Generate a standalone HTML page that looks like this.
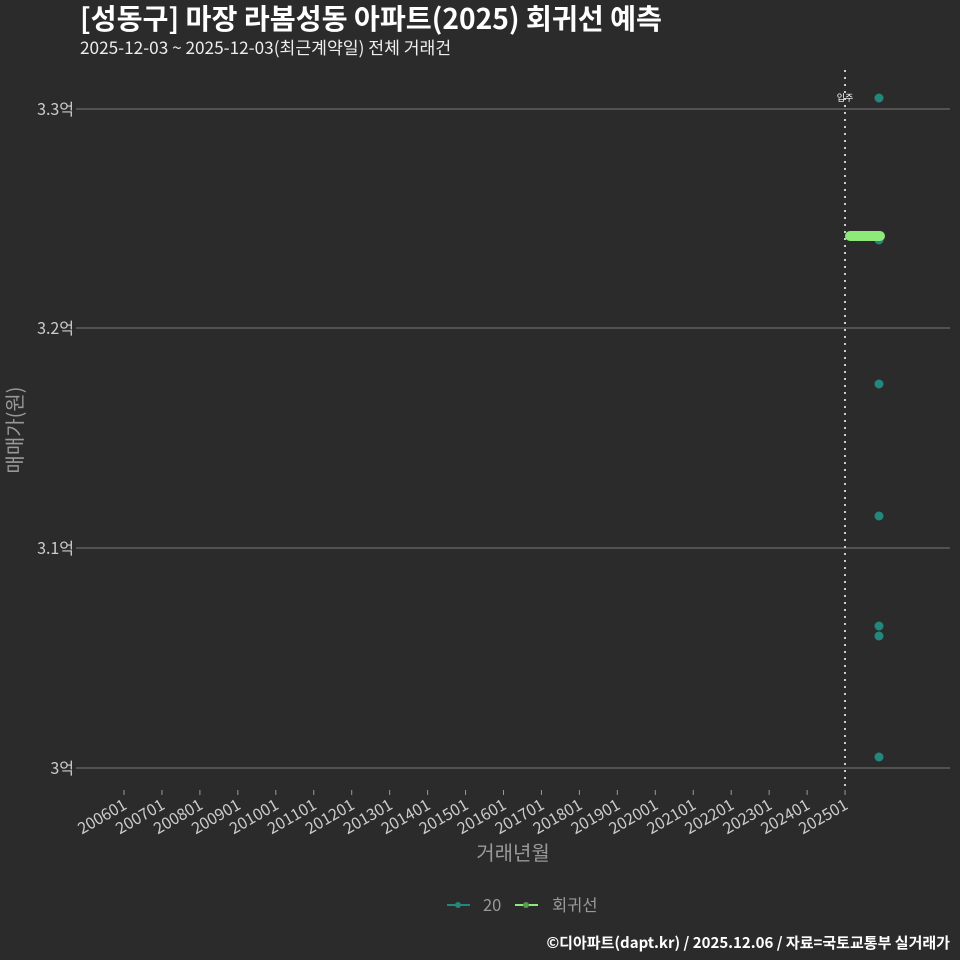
<!DOCTYPE html><html><head><meta charset="utf-8"><style>
body{margin:0;background:#2b2b2b;}
svg{display:block;font-family:"Noto Sans CJK KR","Liberation Sans",sans-serif;}
</style></head><body>
<svg width="960" height="960" xmlns="http://www.w3.org/2000/svg">
<rect width="960" height="960" fill="#2b2b2b"/>
<text x="80" y="29" fill="#fff" font-size="28.2" font-weight="bold">[성동구] 마장 라봄성동 아파트(2025) 회귀선 예측</text>
<text x="80" y="54" fill="#eee" font-size="17.2">2025-12-03 ~ 2025-12-03(최근계약일) 전체 거래건</text>
<g stroke="#6a6a6a" stroke-width="1.2">
<line x1="76" x2="950" y1="109" y2="109"/><line x1="76" x2="950" y1="328" y2="328"/>
<line x1="76" x2="950" y1="548" y2="548"/><line x1="76" x2="950" y1="768" y2="768"/>
</g>
<g fill="#ccc" font-size="16" text-anchor="end">
<text x="74" y="115">3.3억</text><text x="74" y="334">3.2억</text><text x="74" y="554">3.1억</text><text x="74" y="774">3억</text>
</g>
<text transform="translate(22,430) rotate(-90)" fill="#999" font-size="20" text-anchor="middle">매매가(원)</text>
<line x1="845" x2="845" y1="70" y2="790" stroke="#ccc" stroke-width="2" stroke-dasharray="2,5"/>
<text x="845" y="101" fill="#fff" font-size="9" text-anchor="middle">입주</text>
<g fill="#ccc" font-size="16" text-anchor="end" id="xl"></g>
<g fill="#23877c">
<circle cx="879" cy="98" r="4.5"/><circle cx="879" cy="240" r="4.5"/><circle cx="879" cy="384" r="4.5"/>
<circle cx="879" cy="516" r="4.5"/><circle cx="879" cy="626" r="4.5"/><circle cx="879" cy="636" r="4.5"/><circle cx="879" cy="757" r="4.5"/>
</g>
<line x1="850" x2="880" y1="236" y2="236" stroke="#8fe87a" stroke-width="10" stroke-linecap="round"/>
<text x="513" y="860" fill="#999" font-size="20" text-anchor="middle">거래년월</text>
<line x1="447" x2="470" y1="905" y2="905" stroke="#23877c" stroke-width="2"/><circle cx="458" cy="905" r="3" fill="#23877c"/>
<text x="483" y="911" fill="#999" font-size="16.5">20</text>
<line x1="515" x2="538" y1="905" y2="905" stroke="#8fe87a" stroke-width="2"/><circle cx="526" cy="905" r="3" fill="#5a9a50"/>
<text x="552" y="911" fill="#999" font-size="16.5">회귀선</text>
<text x="950" y="948" fill="#fff" font-size="15" font-weight="bold" text-anchor="end">©디아파트(dapt.kr) / 2025.12.06 / 자료=국토교통부 실거래가</text>
<g id="ticks" stroke="#999"></g>
</svg>
<script>
var g=document.getElementById('xl'),t=document.getElementById('ticks'),ns='http://www.w3.org/2000/svg';
for(var i=0;i<20;i++){var x=124+i*37.95;
var l=document.createElementNS(ns,'line');l.setAttribute('x1',x);l.setAttribute('x2',x);l.setAttribute('y1',790);l.setAttribute('y2',795);t.appendChild(l);
var s=document.createElementNS(ns,'text');s.setAttribute('transform','translate('+(x+4)+',808) rotate(-30)');s.textContent=(2006+i)+'01';g.appendChild(s);}
</script>
</body></html>
